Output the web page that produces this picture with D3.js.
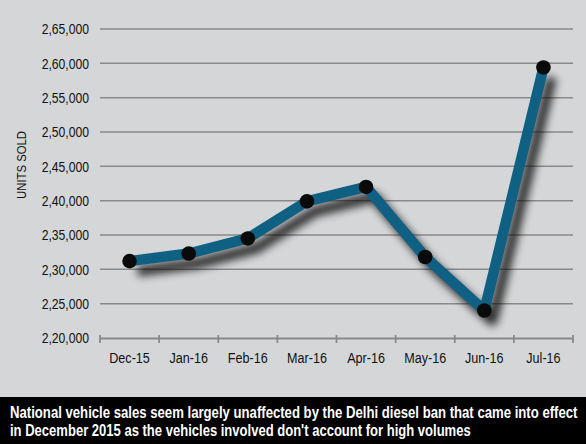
<!DOCTYPE html>
<html>
<head>
<meta charset="utf-8">
<script src="https://cdn.jsdelivr.net/npm/d3@7"></script>
<style>
  html, body { margin: 0; padding: 0; background: #d5d6d8; }
  svg { display: block; }
</style>
</head>
<body>
<svg id="chart"></svg>
<script>
// Monthly units sold
const months = ["Dec-15", "Jan-16", "Feb-16", "Mar-16", "Apr-16", "May-16", "Jun-16", "Jul-16"];
const unitsSold = [231200, 232300, 234500, 239900, 242000, 231800, 224000, 259400];
const yTicks = [220000, 225000, 230000, 235000, 240000, 245000, 250000, 255000, 260000, 265000];
const captionLines = [
    "National vehicle sales seem largely unaffected by the Delhi diesel ban that came into effect",
    "in December 2015 as the vehicles involved don't account for high volumes"
];

const width = 586, height = 444;
const margin = {top: 29, right: 13, bottom: 106, left: 100};
const font = "'Liberation Sans Narrow', 'Liberation Sans', Arial, sans-serif";
const squeeze = 0.84;

const svg = d3.select("#chart")
    .attr("width", width)
    .attr("height", height);

// Background
svg.append("rect")
    .attr("width", width)
    .attr("height", height)
    .attr("fill", "#d5d6d8");

// Drop shadow for the line
const defs = svg.append("defs");
const shadow = defs.append("filter")
    .attr("id", "shadow")
    .attr("x", "-20%").attr("y", "-20%")
    .attr("width", "140%").attr("height", "140%");
shadow.append("feGaussianBlur")
    .attr("in", "SourceAlpha")
    .attr("stdDeviation", 4.5);
shadow.append("feOffset")
    .attr("dx", 8)
    .attr("dy", 10)
    .attr("result", "off");
shadow.append("feComponentTransfer")
    .append("feFuncA")
    .attr("type", "linear")
    .attr("slope", 0.8);

const x = d3.scaleBand()
    .domain(months)
    .range([margin.left, width - margin.right]);

const y = d3.scaleLinear()
    .domain([220000, 265000])
    .range([height - margin.bottom, margin.top]);

const fmt = v => {
    // Indian digit grouping: 2,65,000
    const s = String(v);
    const last3 = s.slice(-3);
    const rest = s.slice(0, -3).replace(/\B(?=(\d{2})+(?!\d))/g, ",");
    return rest ? rest + "," + last3 : last3;
};

// Gridlines
svg.append("g")
    .selectAll("line")
    .data(yTicks.slice(1))
    .join("line")
    .attr("x1", margin.left)
    .attr("x2", width - margin.right)
    .attr("y1", d => y(d))
    .attr("y2", d => y(d))
    .attr("stroke", "#898989")
    .attr("stroke-width", 1.5);

// Y axis labels (condensed look via horizontal scale)
svg.append("g")
    .selectAll("text")
    .data(yTicks)
    .join("text")
    .attr("transform", d => `translate(89,${y(d)}) scale(${squeeze},1)`)
    .attr("dy", "0.36em")
    .attr("text-anchor", "end")
    .attr("font-family", font)
    .attr("font-size", 14.5)
    .attr("fill", "#111")
    .text(fmt);

// X axis
const xAxis = svg.append("g")
    .attr("transform", `translate(0,${y(220000)})`)
    .call(d3.axisBottom(x).tickSize(0).tickSizeOuter(0));
xAxis.select(".domain")
    .attr("stroke", "#898989")
    .attr("stroke-width", 1.8);
xAxis.selectAll("text")
    .attr("dy", 0)
    .attr("y", 0)
    .attr("transform", `translate(0,25) scale(${squeeze},1)`)
    .attr("font-family", font)
    .attr("font-size", 15)
    .attr("fill", "#111");
// boundary ticks between months
const bounds = months.map(m => x(m)).concat([x.range()[1]]);
xAxis.selectAll(".bound")
    .data(bounds)
    .join("line")
    .attr("class", "bound")
    .attr("x1", d => d).attr("x2", d => d)
    .attr("y1", -3).attr("y2", 5)
    .attr("stroke", "#898989")
    .attr("stroke-width", 1.8);

// Y axis title
svg.append("text")
    .attr("transform", `translate(26,165) rotate(-90) scale(${squeeze},1)`)
    .attr("text-anchor", "middle")
    .attr("font-family", font)
    .attr("font-size", 13.5)
    .attr("fill", "#111")
    .text("UNITS SOLD");

// Line
const points = months.map((m, i) => ({m, v: unitsSold[i]}));
const line = d3.line()
    .x(d => x(d.m) + x.bandwidth() / 2)
    .y(d => y(d.v));

svg.append("path")
    .datum(points)
    .attr("d", line)
    .attr("fill", "none")
    .attr("stroke", "#0f6083")
    .attr("stroke-width", 10.5)
    .attr("stroke-linejoin", "round")
    .attr("filter", "url(#shadow)");

svg.append("path")
    .datum(points)
    .attr("d", line)
    .attr("fill", "none")
    .attr("stroke", "#0f6083")
    .attr("stroke-width", 10.5)
    .attr("stroke-linejoin", "round");

svg.append("g")
    .selectAll("circle")
    .data(points)
    .join("circle")
    .attr("cx", d => x(d.m) + x.bandwidth() / 2)
    .attr("cy", d => y(d.v))
    .attr("r", 7.3)
    .attr("fill", "#0a0a0a");

// Caption band
svg.append("rect")
    .attr("x", 0)
    .attr("y", 397)
    .attr("width", width)
    .attr("height", height - 397)
    .attr("fill", "#000");

// caption: squeeze each line horizontally to its width in the picture
const capWidths = [568, 461];
svg.append("g")
    .selectAll("text")
    .data(captionLines)
    .join("text")
    .attr("font-family", font)
    .attr("font-weight", "bold")
    .attr("font-size", 16.5)
    .attr("fill", "#fff")
    .text(d => d)
    .each(function(d, i) {
        const k = capWidths[i] / this.getComputedTextLength();
        d3.select(this).attr("transform", `translate(10,${418 + i * 18}) scale(${k},1)`);
    });
</script>
</body>
</html>
